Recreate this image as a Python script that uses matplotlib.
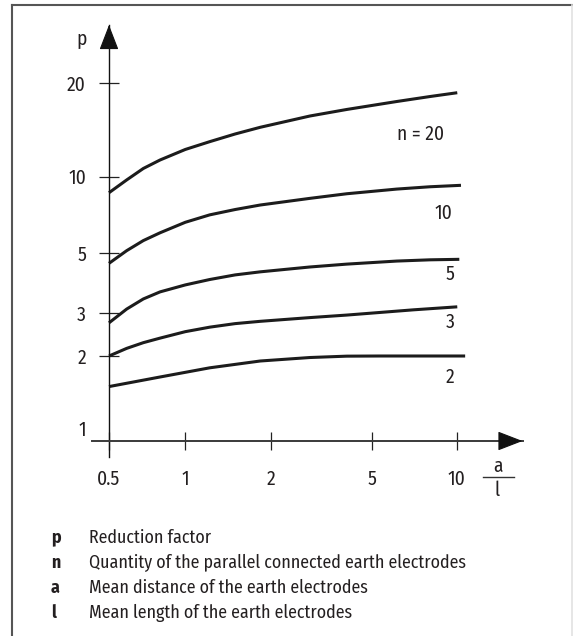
import numpy as np
import matplotlib
matplotlib.use("Agg")
import matplotlib.pyplot as plt
from matplotlib.lines import Line2D

plt.rcParams['font.family'] = ['Fira Sans Condensed', 'DejaVu Sans']

W, H = 573, 636
INK = '#231f20'

# printed chart uses uneven scales: tick value -> pixel (x from left, y from top)
x_scale_vals = [0.5, 1, 2, 5, 10]
x_scale_px = [109, 185.3, 270.5, 372.4, 456.9]
y_scale_vals = [1, 2, 3, 5, 10, 20]
y_scale_px = [428, 356, 313.3, 253.3, 176.7, 83.3]

# curves: p versus a/l for n parallel electrodes
x_n20 = [0.5, 0.587, 0.683, 0.795, 1.0, 1.22, 1.5, 1.84, 2.85, 3.97, 6.1, 8.02, 10.03]
p_n20 = [8.65, 9.71, 10.63, 11.32, 12.24, 12.97, 13.73, 14.43, 15.69, 16.47, 17.47, 18.13, 18.65]
x_n10 = [0.5, 0.587, 0.683, 0.795, 1.0, 1.22, 1.5, 1.84, 2.85, 3.97, 6.1, 8.02, 10.34]
p_n10 = [4.59, 5.12, 5.61, 6.02, 6.62, 7.08, 7.43, 7.74, 8.22, 8.57, 8.94, 9.13, 9.25]
x_n5 = [0.5, 0.587, 0.683, 0.795, 1.0, 1.22, 1.5, 1.84, 2.85, 3.97, 6.1, 8.02, 10.2]
p_n5 = [2.74, 3.11, 3.39, 3.60, 3.82, 4.00, 4.16, 4.27, 4.45, 4.56, 4.68, 4.73, 4.75]
x_n3 = [0.5, 0.587, 0.683, 0.795, 1.0, 1.22, 1.5, 1.84, 2.85, 3.97, 7.0, 10.03]
p_n3 = [2.0, 2.15, 2.27, 2.37, 2.52, 2.63, 2.72, 2.78, 2.88, 2.95, 3.09, 3.17]
x_n2 = [0.5, 0.795, 1.22, 1.84, 2.85, 3.97, 5.32, 10.7]
p_n2 = [1.49, 1.634, 1.785, 1.906, 1.971, 1.997, 2.0, 2.0]

curve_x = [x_n20, x_n10, x_n5, x_n3, x_n2]
curve_p = [p_n20, p_n10, p_n5, p_n3, p_n2]
curve_labels = ['n = 20', '10', '5', '3', '2']
label_x = [9.0, 9.63, 9.8, 9.8, 9.8]
label_p = [13.7, 7.2, 4.19, 2.75, 1.625]

x_ticks = [0.5, 1, 2, 5, 10]
x_ticklabels = ['0.5', '1', '2', '5', '10']
y_ticks = [1, 2, 3, 5, 10, 20]
y_ticklabels = ['1', '2', '3', '5', '10', '20']

legend_keys = ['p', 'n', 'a', 'l']
legend_text = ['Reduction factor',
               'Quantity of the parallel connected earth electrodes',
               'Mean distance of the earth electrodes',
               'Mean length of the earth electrodes']


def lin(v, xp, fp):
    out = np.interp(v, xp, fp)
    lo = (fp[1] - fp[0]) / (xp[1] - xp[0])
    hi = (fp[-1] - fp[-2]) / (xp[-1] - xp[-2])
    out = np.where(v < xp[0], fp[0] + (v - xp[0]) * lo, out)
    out = np.where(v > xp[-1], fp[-1] + (v - xp[-1]) * hi, out)
    return out


def make_scale(vals, px):
    lv = np.log10(np.asarray(vals, float))
    p = np.asarray(px, float)

    def fwd(v):
        v = np.log10(np.clip(np.asarray(v, float), 1e-6, None))
        return lin(v, lv, p)

    def inv(q):
        return 10 ** lin(np.asarray(q, float), p, lv)
    return fwd, inv


fx, ix = make_scale(x_scale_vals, x_scale_px)
fy, iy = make_scale(y_scale_vals, [H - v for v in y_scale_px])

fig = plt.figure(figsize=(W / 100, H / 100), dpi=100)

# page frame
fig.add_artist(Line2D([11.5 / W, 1], [1 - 4.7 / H] * 2, color='#555555', lw=1.5))
fig.add_artist(Line2D([11.5 / W] * 2, [0, 1 - 4.7 / H], color='#555555', lw=1.5))
fig.add_artist(Line2D([571.5 / W] * 2, [0, 1 - 4.7 / H], color='#e2e2e2', lw=1.2))

left, right, top, bottom = 91.5, 522.5, 25, 456.7
ax = fig.add_axes([left / W, 1 - bottom / H, (right - left) / W, (bottom - top) / H])
ax.patch.set_visible(False)
ax.set_xscale('function', functions=(fx, ix))
ax.set_yscale('function', functions=(fy, iy))
ax.set_xlim(float(ix(left)), float(ix(right)))
ax.set_ylim(float(iy(H - bottom)), float(iy(H - top)))

p_cross = float(iy(H - 441))
ax.spines['top'].set_visible(False)
ax.spines['right'].set_visible(False)
ax.spines['left'].set_position(('data', 0.5))
ax.spines['bottom'].set_position(('data', p_cross))
ax.spines['left'].set_color('#111111')
ax.spines['left'].set_linewidth(1.0)
ax.spines['bottom'].set_color('#3a3a3a')
ax.spines['bottom'].set_linewidth(1.4)

# arrow heads at the axis ends
head = dict(arrowstyle='-|>,head_length=2.2,head_width=0.85', mutation_scale=7.2,
            shrinkA=0, shrinkB=0, color='#111111', lw=0.8)
ax.annotate('', xy=(1, p_cross), xycoords=ax.get_yaxis_transform(),
            xytext=(-22, 0), textcoords='offset pixels', arrowprops=head)
ax.annotate('', xy=(0.5, 1), xycoords=ax.get_xaxis_transform(),
            xytext=(0, -22), textcoords='offset pixels', arrowprops=head)

ax.set_xticks(x_ticks)
ax.set_xticklabels(x_ticklabels)
ax.set_yticks(y_ticks)
ax.set_yticklabels(y_ticklabels)
ax.minorticks_off()
ax.tick_params(axis='x', direction='inout', length=12.7, width=0.9, colors='#222222',
               pad=14, labelsize=14, labelcolor=INK)
ax.tick_params(axis='y', direction='inout', length=14, width=0.9, colors='#222222',
               pad=9.6, labelsize=14, labelcolor=INK)
ax.yaxis.get_major_ticks()[0].tick1line.set_visible(False)

for xs, ps in zip(curve_x, curve_p):
    ax.plot(xs, ps, color='#1c1c1c', lw=2.2, solid_capstyle='butt',
            solid_joinstyle='round', clip_on=False)

for lab, lx, lp in zip(curve_labels, label_x, label_p):
    ax.text(lx, lp, lab, ha='right', va='center', fontsize=14, color=INK)

# axis names
fig.text(81.5 / W, 1 - 39 / H, 'p', ha='center', va='center', fontsize=14, color=INK)
fig.text(497.8 / W, 1 - 466 / H, 'a', ha='center', va='center', fontsize=14, color=INK)
fig.text(497.5 / W, 1 - 490 / H, 'l', ha='center', va='center', fontsize=14, color=INK)
fig.add_artist(Line2D([483 / W, 513.5 / W], [1 - 477 / H] * 2, color='#333333', lw=1.0))

# key below the chart
for i, (k, t) in enumerate(zip(legend_keys, legend_text)):
    yb = 1 - (542.7 + 25.2 * i) / H
    fig.text(50.7 / W, yb, k, ha='left', va='baseline', fontsize=12.8, fontweight='bold', color=INK)
    fig.text(89.3 / W, yb, t, ha='left', va='baseline', fontsize=12.8, color=INK)

fig.savefig('out.png', dpi=100)
